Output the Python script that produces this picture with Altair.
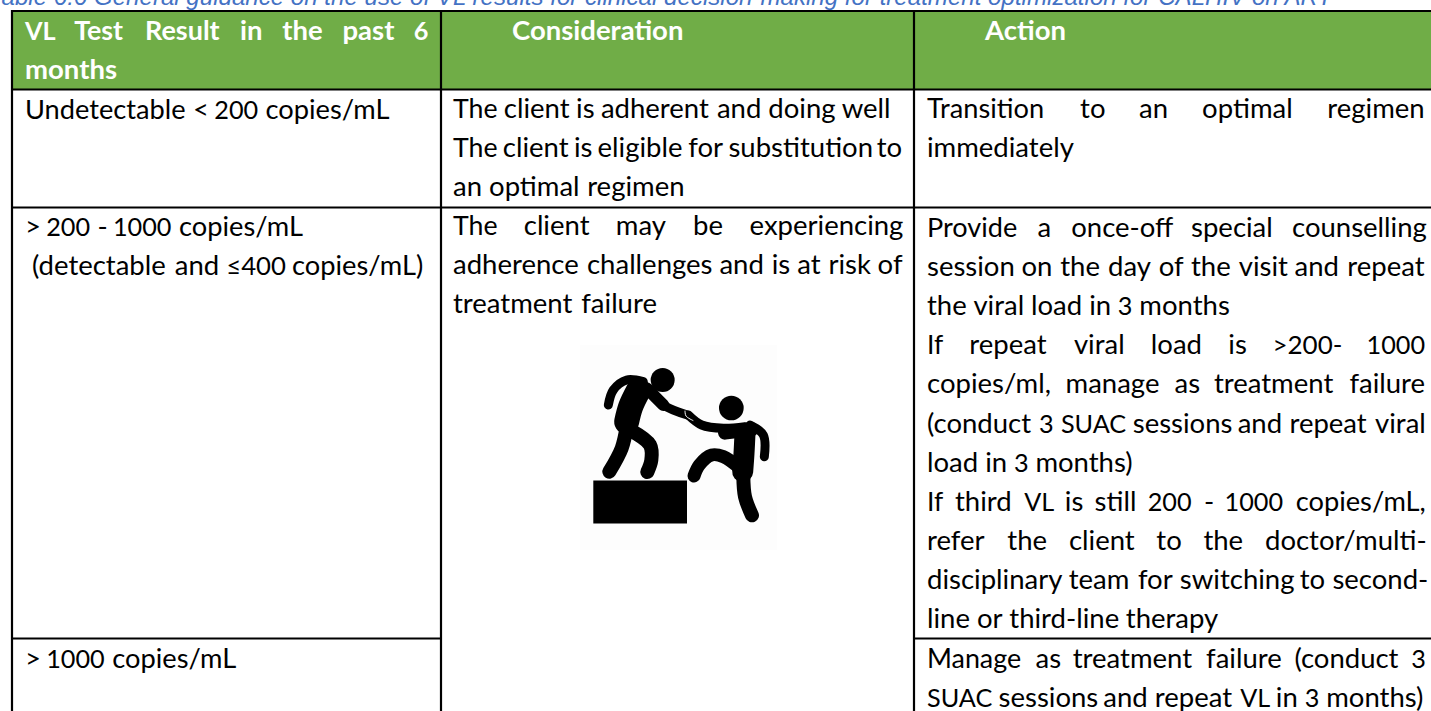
import altair as alt
import pandas as pd

# ---------- text content ----------
TITLE = "Table 6.6 General guidance on the use of VL results for clinical decision-making for treatment optimization for CALHIV on ART"
HEAD_1 = [("VL Test Result in the past 6", True), ("months", False)]
HEAD_2 = ["Consideration"]
HEAD_3 = ["Action"]
COL1_R1 = [("Undetectable < 200 copies/mL", False)]
COL1_R2 = [("> 200 - 1000 copies/mL", False), ("(detectable and ≤400 copies/mL)", False)]
COL1_R3 = [("> 1000 copies/mL", False)]
COL2_R1 = [("The client is adherent and doing well", False),
           ("The client is eligible for substitution to", True),
           ("an optimal regimen", False)]
COL2_R2 = [("The client may be experiencing", True),
           ("adherence challenges and is at risk of", True),
           ("treatment failure", False)]
COL3_R1 = [("Transition to an optimal regimen", True), ("immediately", False)]
COL3_R2 = [("Provide a once-off special counselling", True),
           ("session on the day of the visit and repeat", True),
           ("the viral load in 3 months", False),
           ("If repeat viral load is >200- 1000", True),
           ("copies/ml, manage as treatment failure", True),
           ("(conduct 3 SUAC sessions and repeat viral", True),
           ("load in 3 months)", False),
           ("If third VL is still 200 - 1000 copies/mL,", True),
           ("refer the client to the doctor/multi-", True),
           ("disciplinary team for switching to second-", True),
           ("line or third-line therapy", False)]
COL3_R3 = [("Manage as treatment failure (conduct 3", True),
           ("SUAC sessions and repeat VL in 3 months)", True)]

# ---------- layout ----------
W, H = 1431, 711
EM = 29.3
BASE_SIZE = 27.5
LEAD = 39.1
COLS = {1: (25, 429), 2: (453, 902), 3: (927, 1426)}
CALIBRI = dict(zip("abcdefghijklmnopqrstuvwxyz",
    [.479,.525,.423,.525,.498,.305,.471,.525,.229,.239,.455,.229,.799,.525,.527,.525,.525,.349,.391,.335,.525,.452,.715,.433,.453,.395]))
CALIBRI.update(dict(zip("ABCDEFGHIJKLMNOPQRSTUVWXYZ",
    [.579,.544,.533,.615,.488,.459,.631,.623,.252,.319,.520,.420,.855,.646,.662,.517,.673,.543,.459,.487,.642,.567,.890,.519,.487,.468])))
CALIBRI.update({c: .507 for c in "0123456789"})
CALIBRI.update({"-": .306, "(": .303, ")": .303, "/": .386, ",": .250, ".": .252, "<": .498, ">": .498, "≤": .498})
SPACE = .226


def word_w(word, scale=1.0):
    return sum(CALIBRI.get(c, .5) for c in word) * EM * scale


def word_size(word):
    plain = sum(CALIBRI.get(c, .5) for c in word)
    wide = sum(CALIBRI.get(c, .5) * (1.09 if (c.isupper() or c.isdigit()) else 1) for c in word)
    return BASE_SIZE * plain / wide


def lay(lines, col, first_base, out, scale=1.0):
    left, right = COLS[col]
    for i, (line, just) in enumerate(lines):
        words = line.split(" ")
        widths = [word_w(w, scale) for w in words]
        gap = SPACE * EM * scale
        if just and len(words) > 1:
            gap = (right - left - sum(widths)) / (len(words) - 1)
        x = left
        for w, ww in zip(words, widths):
            out.append({"x": x, "y": first_base + i * LEAD, "t": w, "s": word_size(w)})
            x += ww + gap


body, head = [], []
lay(COL1_R1, 1, 119, body)
lay(COL1_R2[:1], 1, 236, body)
COLS[1] = (32, 429)
lay(COL1_R2[1:], 1, 275, body)
COLS[1] = (25, 429)
lay(COL1_R3, 1, 668, body)
lay(COL2_R1, 2, 118, body)
lay(COL2_R2, 2, 235, body)
lay(COL3_R1, 3, 118, body)
lay(COL3_R2, 3, 237, body)
lay(COL3_R3, 3, 668, body)
lay(HEAD_1, 1, 40, head, scale=1.02)
head.append({"x": 512, "y": 40, "t": HEAD_2[0], "s": BASE_SIZE})
head.append({"x": 985, "y": 40, "t": HEAD_3[0], "s": BASE_SIZE})

x_s = alt.Scale(domain=[0, W], nice=False, zero=False)
y_s = alt.Scale(domain=[0, H], reverse=True, nice=False, zero=False)
X = alt.X("x:Q", scale=x_s, axis=None)
Y = alt.Y("y:Q", scale=y_s, axis=None)

# ---------- table furniture ----------
fill_df = pd.DataFrame([{"x": 12, "x2": W, "y": 11, "y2": 89, "c": "#70AD47"},
                        {"x": 580, "x2": 777, "y": 345, "y2": 550, "c": "#FDFDFD"},
                        {"x": 593.3, "x2": 687, "y": 480.5, "y2": 523.5, "c": "#000000"}])
fills = alt.Chart(fill_df).mark_rect(stroke=None).encode(
    x=X, x2="x2:Q", y=Y, y2="y2:Q", color=alt.Color("c:N", scale=None))

rule_df = pd.DataFrame([
    {"x": 11, "x2": W, "y": 11, "y2": 11},
    {"x": 11, "x2": W, "y": 89.5, "y2": 89.5},
    {"x": 11, "x2": W, "y": 207.5, "y2": 207.5},
    {"x": 11, "x2": 441, "y": 638.5, "y2": 638.5},
    {"x": 914, "x2": W, "y": 638.5, "y2": 638.5},
    {"x": 12, "x2": 12, "y": 10, "y2": H},
    {"x": 441, "x2": 441, "y": 10, "y2": H},
    {"x": 914, "x2": 914, "y": 10, "y2": H},
])
rules = alt.Chart(rule_df).mark_rule(color="#000000", strokeWidth=2.2).encode(
    x=X, x2="x2:Q", y=Y, y2="y2:Q")

# ---------- pictogram (points read at 3x from a crop at 430,320) ----------
HEADS = [(698, 180, 576), (904, 264, 610)]
LIMBS = [
    (25, [(625, 212), (602, 260), (590, 305)]),
    (12, [(650, 205), (700, 255)]),
    (9, [(640, 185), (590, 180), (550, 210), (535, 255)]),
    (9, [(640, 195), (700, 255), (772, 285)]),
    (14, [(590, 320), (575, 385), (538, 455)]),
    (14, [(600, 330), (660, 375), (664, 420), (652, 456)]),
    (21, [(945, 340), (942, 400), (938, 455)]),
    (14, [(885, 338), (965, 328)]),
    (9, [(960, 315), (1000, 345), (1003, 410)]),
    (9, [(775, 285), (815, 315), (880, 325), (945, 320)]),
    (13, [(930, 445), (880, 410), (845, 405), (808, 435), (792, 468)]),
    (14, [(940, 470), (945, 530), (966, 586)]),
]
HAND_LINES = [[(765, 272), (768, 288), (790, 302)], [(770, 269), (790, 268), (803, 280)]]
rows = []
for k, (wd, pts) in enumerate(LIMBS):
    for i, (zx, zy) in enumerate(pts):
        rows.append({"x": 430 + zx / 3, "y": 320 + zy / 3, "k": k, "i": i, "w": wd})
limbs = alt.Chart(pd.DataFrame(rows)).mark_line(
    color="#000000", strokeCap="round", strokeJoin="round", interpolate="catmull-rom"
).encode(x=X, y=Y, detail="k:N", order="i:Q", strokeWidth=alt.StrokeWidth("w:Q", scale=None))
hand_rows = []
for k, pts in enumerate(HAND_LINES):
    for i, (zx, zy) in enumerate(pts):
        hand_rows.append({"x": 430 + zx / 3, "y": 320 + zy / 3, "k": k, "i": i})
hands = alt.Chart(pd.DataFrame(hand_rows)).mark_line(
    color="#FFFFFF", strokeWidth=1, interpolate="catmull-rom"
).encode(x=X, y=Y, detail="k:N", order="i:Q")
heads = alt.Chart(pd.DataFrame([{"x": 430 + a / 3, "y": 320 + b / 3, "s": s} for a, b, s in HEADS])).mark_point(
    filled=True, shape="circle", color="#000000", opacity=1, strokeWidth=0
).encode(x=X, y=Y, size=alt.Size("s:Q", scale=None))

# ---------- text ----------
SIZE = alt.Size("s:Q", scale=None)
body_t = alt.Chart(pd.DataFrame(body)).mark_text(
    font="Lato", align="left", baseline="alphabetic", color="#000000"
).encode(x=X, y=Y, text="t:N", size=SIZE)
head_t = alt.Chart(pd.DataFrame(head)).mark_text(
    font="Lato", fontWeight="bold", align="left", baseline="alphabetic", color="#FFFFFF"
).encode(x=X, y=Y, text="t:N", size=SIZE)
title_t = alt.Chart(pd.DataFrame([{"x": -11, "y": 4.5, "t": TITLE}])).mark_text(
    font="Liberation Sans", fontSize=24.1, fontStyle="italic", align="left", baseline="alphabetic",
    color="#4472C4"
).encode(x=X, y=Y, text="t:N")

chart = alt.layer(fills, limbs, hands, heads, rules, body_t, head_t, title_t).properties(
    width=W, height=H, padding=0, autosize=alt.AutoSizeParams(type="none"),
).configure_view(stroke=None)

chart.save("out.html", embed_options={"renderer": "svg", "actions": False,
                                      "defaultStyle": "html,body{margin:0 !important;padding:0;overflow:hidden}"})
